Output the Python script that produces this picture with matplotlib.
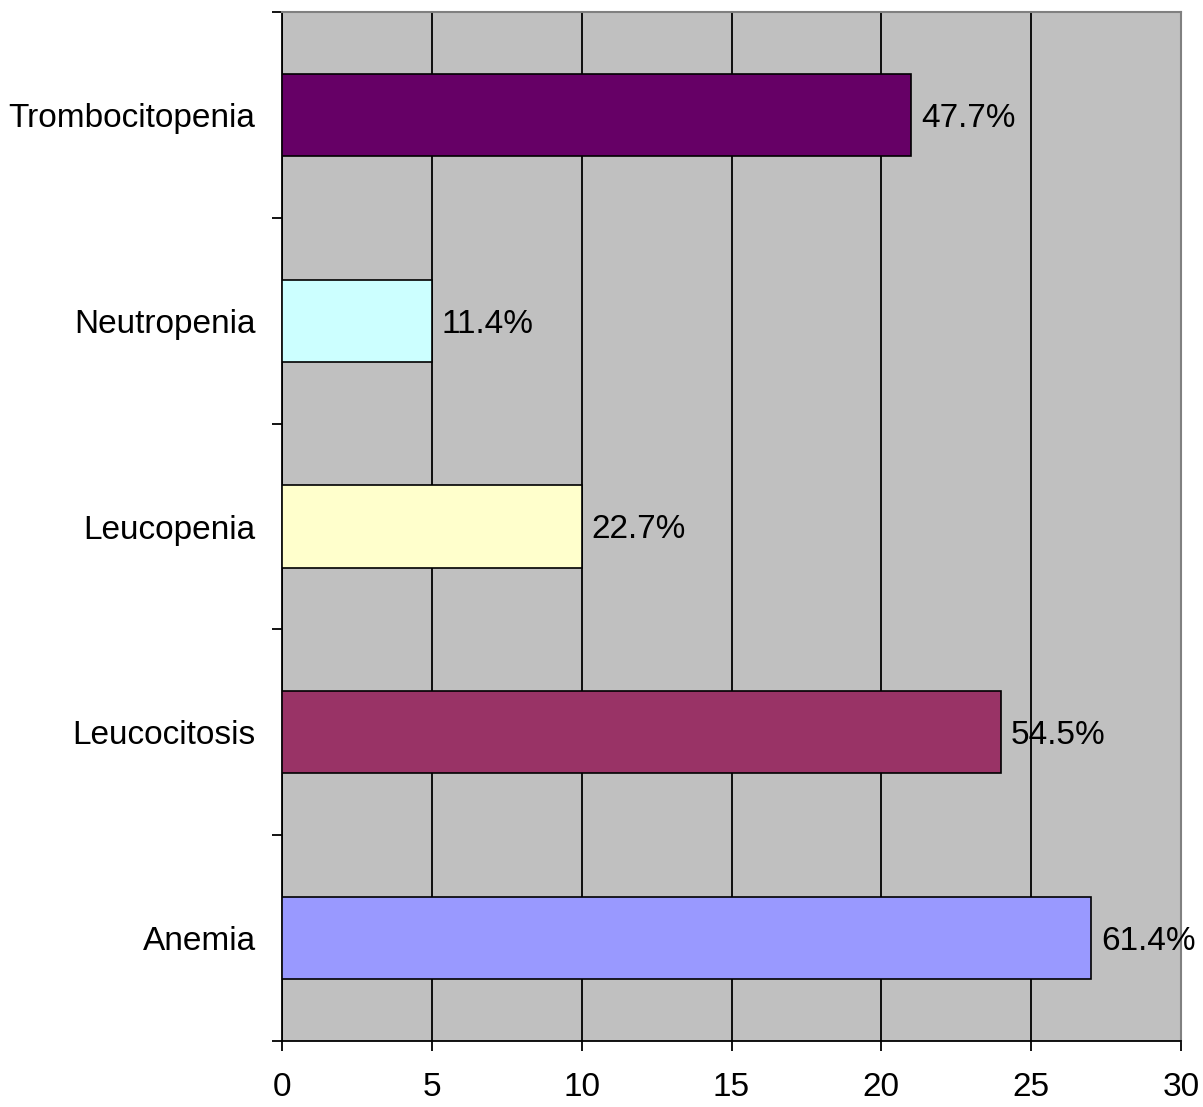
import matplotlib
matplotlib.use("Agg")
import matplotlib.pyplot as plt
from matplotlib.ticker import FixedLocator, NullFormatter

plt.rcParams['font.family'] = ['Liberation Sans', 'DejaVu Sans']

categories = ["Anemia", "Leucocitosis", "Leucopenia", "Neutropenia", "Trombocitopenia"]
counts = [27, 24, 10, 5, 21]
percent_labels = ["61.4%", "54.5%", "22.7%", "11.4%", "47.7%"]
colors = ["#9999FF", "#993366", "#FFFFCC", "#CCFFFF", "#660066"]
x_ticks = [0, 5, 10, 15, 20, 25, 30]

FS = 24

fig = plt.figure(figsize=(12.03, 11.07), dpi=100)
ax = fig.add_axes([282 / 1203, 1 - 1041 / 1107, (1181 - 282) / 1203, (1041 - 12) / 1107])
ax.set_facecolor("#C0C0C0")

ypos = list(range(len(categories)))
ax.barh(ypos, counts, height=0.4, color=colors, edgecolor="black", linewidth=1.2, zorder=3)

for y, v, lab in zip(ypos, counts, percent_labels):
    ax.annotate(lab, xy=(v, y), xytext=(7, 0), textcoords="offset points",
                ha="left", va="center_baseline", fontsize=FS, color="black", zorder=4,
                annotation_clip=False)

ax.set_xlim(0, 30)
ax.set_ylim(-0.5, len(categories) - 0.5)

ax.set_xticks(x_ticks)
ax.set_xticklabels([str(t) for t in x_ticks], fontsize=FS)
ax.xaxis.grid(True, color="black", linewidth=1.3, zorder=1)
ax.set_axisbelow(True)

# category boundaries carry the outward ticks; names sit on minor ticks
ax.yaxis.set_major_locator(FixedLocator([i - 0.5 for i in range(len(categories) + 1)]))
ax.yaxis.set_major_formatter(NullFormatter())
ax.yaxis.set_minor_locator(FixedLocator(ypos))
ax.set_yticklabels(categories, minor=True, fontsize=FS)
ax.tick_params(axis="y", which="minor", length=0, pad=19)
ax.tick_params(axis="y", which="major", direction="out", length=7.5, width=1.3, color="black")
ax.tick_params(axis="x", which="major", direction="out", length=7.5, width=1.3, pad=15)

for side in ("left", "bottom"):
    ax.spines[side].set_color("black")
    ax.spines[side].set_linewidth(1.3)
for side in ("top", "right"):
    ax.spines[side].set_color("#808080")
    ax.spines[side].set_linewidth(1.5)

fig.savefig("out.png", dpi=100)
